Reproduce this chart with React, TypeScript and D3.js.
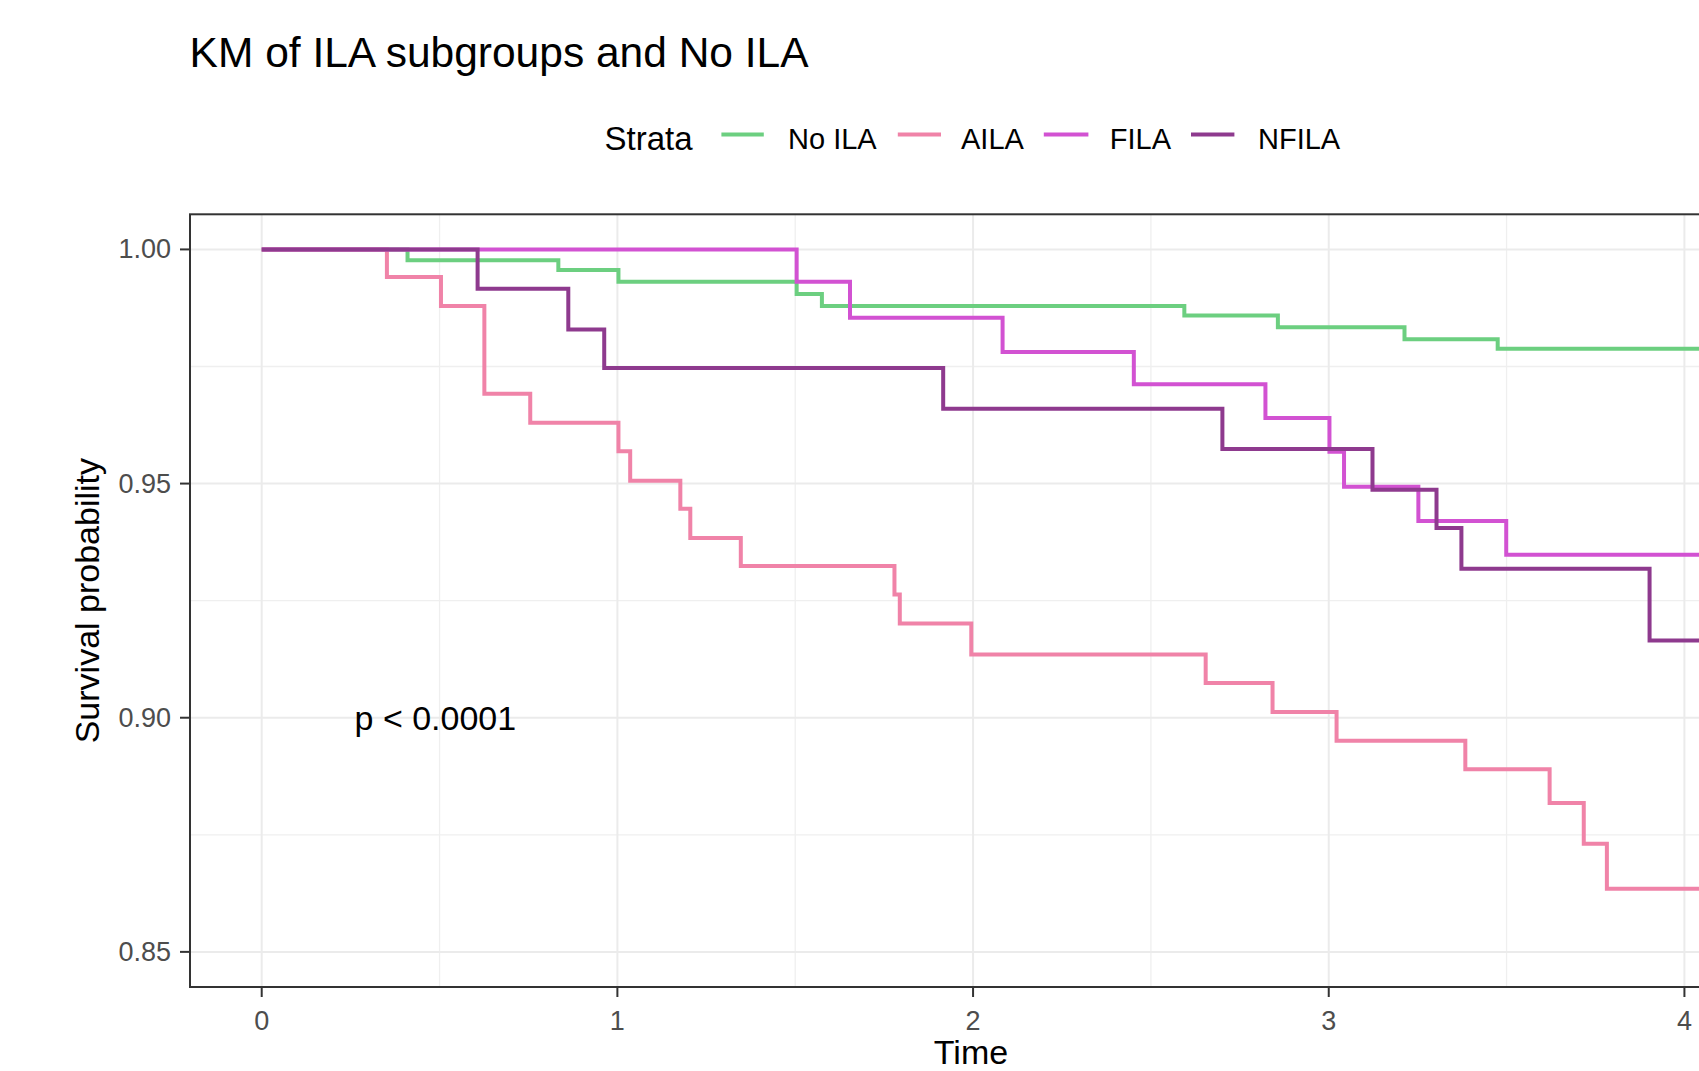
import React from "react";
import * as d3 from "d3";

const strata = ["No ILA", "AILA", "FILA", "NFILA"];
const colors = ["#6CCF80", "#F083A8", "#D252D2", "#8E3A8E"];

const noIlaTime = [0, 0.41, 0.834, 1.003, 1.504, 1.575, 2.594, 2.857, 3.213, 3.475, 4.2];
const noIlaSurv = [1, 0.9977, 0.9956, 0.9931, 0.9905, 0.9879, 0.9859, 0.9834, 0.9808, 0.9788, 0.9788];

const ailaTime = [0, 0.352, 0.504, 0.626, 0.755, 1.003, 1.036, 1.177, 1.205, 1.347, 1.779, 1.794, 1.995, 2.654, 2.842, 3.022, 3.384, 3.621, 3.717, 3.782, 4.2];
const ailaSurv = [1, 0.9941, 0.9879, 0.9692, 0.963, 0.9569, 0.9506, 0.9446, 0.9384, 0.9324, 0.9263, 0.9201, 0.9135, 0.9074, 0.9012, 0.8951, 0.889, 0.8818, 0.8731, 0.8635, 0.8635];

const filaTime = [0, 1.504, 1.654, 2.083, 2.452, 2.822, 3.002, 3.043, 3.252, 3.499, 4.2];
const filaSurv = [1, 0.9931, 0.9854, 0.9781, 0.9712, 0.964, 0.9568, 0.9493, 0.942, 0.9348, 0.9348];

const nfilaTime = [0, 0.607, 0.862, 0.963, 1.916, 2.701, 3.123, 3.303, 3.373, 3.902, 4.2];
const nfilaSurv = [1, 0.9916, 0.9829, 0.9747, 0.966, 0.9574, 0.9487, 0.9405, 0.9318, 0.9165, 0.9165];

const xMajor = [0, 1, 2, 3, 4];
const xMinor = [0.5, 1.5, 2.5, 3.5];
const yMajor = [0.85, 0.9, 0.95, 1.0];
const yMinor = [0.875, 0.925, 0.975];

const title = "KM of ILA subgroups and No ILA";
const pText = "p < 0.0001";

const W = 1699;
const H = 1071;
const panel = { left: 190, right: 1752, top: 214.3, bottom: 987 };
const font = "'Liberation Sans', Arial, Helvetica, sans-serif";

export default function App() {
  const x = d3.scaleLinear().domain([-0.2016, 4.19]).range([panel.left, panel.right]);
  const y = d3.scaleLinear().domain([0.8425, 1.0075]).range([panel.bottom, panel.top]);
  const series = [
    { t: noIlaTime, s: noIlaSurv },
    { t: ailaTime, s: ailaSurv },
    { t: filaTime, s: filaSurv },
    { t: nfilaTime, s: nfilaSurv },
  ];
  const line = d3
    .line<[number, number]>()
    .x((d) => x(d[0]))
    .y((d) => y(d[1]))
    .curve(d3.curveStepAfter);
  const fmt = d3.format(".2f");
  const legendKeys = [
    { x1: 721.4, x2: 763.8, tx: 788 },
    { x1: 897.8, x2: 941, tx: 961 },
    { x1: 1043.8, x2: 1088.4, tx: 1109.8 },
    { x1: 1191, x2: 1234.4, tx: 1258 },
  ];
  const pw = panel.right - panel.left;
  const ph = panel.bottom - panel.top;
  return (
    <svg
      width={W}
      height={H}
      style={{ position: "absolute", left: 0, top: 0, background: "#fff" }}
      fontFamily={font}
    >
      <rect x={0} y={0} width={W} height={H} fill="#fff" />
      <defs>
        <clipPath id="panelClip">
          <rect x={panel.left} y={panel.top} width={pw} height={ph} />
        </clipPath>
      </defs>
      <text x={189.6} y={66.5} fontSize={42.5} fill="#000">
        {title}
      </text>
      <text x={604.6} y={150} fontSize={33} fill="#000">
        Strata
      </text>
      {strata.map((name, i) => (
        <g key={name}>
          <line
            x1={legendKeys[i].x1}
            x2={legendKeys[i].x2}
            y1={134.5}
            y2={134.5}
            stroke={colors[i]}
            strokeWidth={4}
          />
          <text x={legendKeys[i].tx} y={149.3} fontSize={29} fill="#000">
            {name}
          </text>
        </g>
      ))}
      <rect x={panel.left} y={panel.top} width={pw} height={ph} fill="#fff" />
      <g clipPath="url(#panelClip)">
        {xMinor.map((v) => (
          <line key={"xm" + v} x1={x(v)} x2={x(v)} y1={panel.top} y2={panel.bottom} stroke="#EFEFEF" strokeWidth={1.3} />
        ))}
        {yMinor.map((v) => (
          <line key={"ym" + v} y1={y(v)} y2={y(v)} x1={panel.left} x2={panel.right} stroke="#EFEFEF" strokeWidth={1.3} />
        ))}
        {xMajor.map((v) => (
          <line key={"xM" + v} x1={x(v)} x2={x(v)} y1={panel.top} y2={panel.bottom} stroke="#EBEBEB" strokeWidth={2} />
        ))}
        {yMajor.map((v) => (
          <line key={"yM" + v} y1={y(v)} y2={y(v)} x1={panel.left} x2={panel.right} stroke="#EBEBEB" strokeWidth={2} />
        ))}
        {series.map((sr, i) => {
          const pts = sr.t.map((t, j) => [t, sr.s[j]] as [number, number]);
          return (
            <path
              key={strata[i]}
              d={line(pts) || ""}
              fill="none"
              stroke={colors[i]}
              strokeWidth={4}
              strokeLinejoin="miter"
            />
          );
        })}
        <text x={x(0.261)} y={y(0.9)} fontSize={34} fill="#000" dominantBaseline="central">
          {pText}
        </text>
      </g>
      <rect x={panel.left} y={panel.top} width={pw} height={ph} fill="none" stroke="#333333" strokeWidth={2} />
      {yMajor.map((v) => (
        <g key={"yt" + v}>
          <line x1={panel.left - 10} x2={panel.left} y1={y(v)} y2={y(v)} stroke="#333333" strokeWidth={2} />
          <text x={171} y={y(v)} fontSize={27} fill="#4D4D4D" textAnchor="end" dominantBaseline="central">
            {fmt(v)}
          </text>
        </g>
      ))}
      {xMajor.map((v) => (
        <g key={"xt" + v}>
          <line x1={x(v)} x2={x(v)} y1={panel.bottom} y2={panel.bottom + 10} stroke="#333333" strokeWidth={2} />
          <text x={x(v)} y={1030} fontSize={27} fill="#4D4D4D" textAnchor="middle">
            {String(v)}
          </text>
        </g>
      ))}
      <text x={(panel.left + panel.right) / 2} y={1064} fontSize={34} fill="#000" textAnchor="middle">
        Time
      </text>
      <text
        transform={`translate(99, ${(panel.top + panel.bottom) / 2}) rotate(-90)`}
        fontSize={34}
        fill="#000"
        textAnchor="middle"
      >
        Survival probability
      </text>
    </svg>
  );
}
